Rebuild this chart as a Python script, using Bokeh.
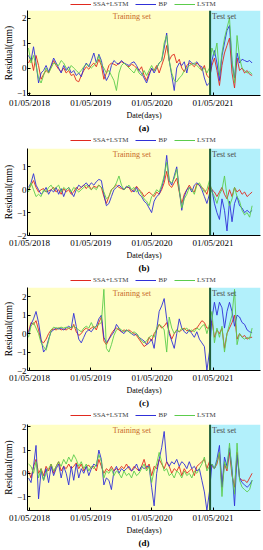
import pandas as pd
from bokeh.plotting import figure
from bokeh.models import (BoxAnnotation, Span, Label, Legend, LegendItem, FixedTicker,
                          Range1d, LinearAxis)
from bokeh.layouts import column
from bokeh.embed import file_html
from bokeh.resources import INLINE

# ---------------- data ----------------
dates = pd.date_range("2018-04-25", periods=90, freq="15D")
tick_dates = ["2018-05-01", "2019-05-01", "2020-05-01", "2021-05-01"]
tick_labels = ["01/05/2018", "01/05/2019", "01/05/2020", "01/05/2021"]
x_start_date = "2018-04-19"
x_end_date = "2022-02-08"
split_date = "2021-04-13"
series_names = ["SSA+LSTM", "BP", "LSTM"]
panel_captions = ["(a)", "(b)", "(c)", "(d)"]

a_ssa = [0.2, 0.4, -0.1, 0.5, 0.1, -0.45, -0.25, -0.1, -0.2, 0.05,
         0.3, 0.1, -0.05, -0.15, 0.0, -0.2, -0.1, -0.3, -0.25, -0.5,
         -0.55, -0.3, -0.1, 0.05, -0.05, 0.1, 0.2, 0.05, 0.35, 0.1,
         -0.45, -0.2, 0.1, 0.2, 0.15, 0.1, 0.2, 0.25, 0.2, 0.1,
         0.05, 0.15, 0.1, 0.0, -0.1, 0.05, -0.3, -0.5, -0.2, -0.05,
         -0.1, 0.1, -0.2, 0.1, 0.4, 0.9, 0.3, 0.5, 0.55, 0.2,
         0.35, 0.0, -0.15, 0.1, 0.2, 0.15, 0.05, 0.2, 0.1, -0.1,
         0.1, -0.3,
         -0.4, 0.1, 0.4, -0.1, -0.7, 0.1, 0.6, 0.9, 1.2, -0.2, -0.8, 0.4, -0.1, 0.0, -0.2, -0.1, -0.25, -0.3]
a_bp = [0.5, 0.3, 0.85, 0.2, -0.6, -0.2, -0.1, 0.1, -0.15, 0.1,
        0.4, 0.2, 0.0, -0.2, 0.1, -0.1, 0.05, -0.2, -0.1, -0.3,
        -0.2, -0.35, 0.0, 0.2, 0.05, 0.3, 0.6, 0.2, 0.55, 0.3,
        -0.2, -0.5, -0.3, 0.1, 0.3, 0.2, 0.15, 0.3, 0.2, 0.15,
        0.1, 0.2, 0.25, 0.1, -0.1, -0.2, -0.4, -0.6, -0.3, 0.0,
        -0.2, 0.0, 0.2, 0.3, 0.8, 1.4, 0.3, -0.3, -0.9, 0.0,
        0.2, 0.1, 0.25, -0.2, 0.3, 0.2, 0.15, 0.25, 0.1, 0.05,
        -0.4, -0.7,
        -0.6, 0.3, 0.7, 0.2, -0.5, 0.5, 1.0, 1.5, 1.7, 0.2, -0.4, 0.6, 0.2, 0.35, 0.3, 0.25, 0.3, 0.2]
a_lstm = [0.8, 0.2, 0.5, 0.1, -0.4, -0.6, -0.3, 0.0, -0.2, 0.0,
          0.2, 0.15, 0.1, 0.3, 0.2, 0.0, -0.1, 0.1, 0.0, -0.1,
          -0.2, -0.1, 0.05, 0.15, 0.1, 0.0, 0.1, 0.2, 0.5, 0.15,
          0.0, -0.2, -0.1, -0.3, -0.5, -0.9, -0.2, 0.1, 0.2, 0.1,
          0.0, -0.1, -0.2, 0.0, -0.2, -0.3, -0.1, -0.3, -0.1, 0.1,
          -0.1, 0.0, 0.2, 0.3, 1.0, 1.3, 0.3, -0.2, -0.5, -0.55,
          -0.4, -0.3, -0.1, 0.0, 0.1, 0.15, 0.2, 0.1, 0.0, -0.1,
          0.0, -0.2,
          0.0, 0.8, 0.5, 1.0, -0.3, 0.6, 1.2, 1.6, 2.0, 0.3, -0.6, 1.3, 0.4, 0.0, -0.1, -0.2, -0.15, -0.25]

b_ssa = [0.0, 0.2, 0.4, 0.1, -0.1, 0.0, 0.05, -0.1, -0.05, 0.0,
         0.1, -0.1, 0.0, -0.2, 0.05, -0.1, 0.0, -0.2, -0.1, 0.1,
         0.0, 0.1, 0.2, 0.05, 0.2, 0.0, 0.15, 0.1, 0.2, 0.1,
         -0.3, -0.6, -0.3, 0.0, 0.1, 0.2, 0.1, 0.05, 0.0, 0.1,
         0.1, -0.1, 0.0, 0.15, 0.0, -0.1, -0.3, -0.2, -0.1, -0.2,
         -0.3, -0.1, -0.2, 0.0, 0.3, 0.8, 0.2, 0.1, 0.3, 0.5,
         -0.1, -0.6, -0.2, 0.0, 0.2, 0.0, -0.1, 0.25, 0.2, 0.1,
         0.0, -0.2,
         0.2, 0.0, -0.1, -0.3, -0.1, 0.1, -0.2, -0.4, 0.0, -0.3, 0.1, -0.1, 0.0, -0.2, -0.1, -0.3, -0.2, -0.1]
b_bp = [0.1, 0.3, 0.7, 0.2, 0.0, -0.2, -0.1, 0.1, -0.2, 0.0,
        -0.1, 0.1, -0.2, 0.05, -0.3, 0.0, 0.1, -0.1, -0.3, 0.0,
        0.2, 0.1, 0.2, 0.3, 0.15, 0.3, 0.2, 0.35, 0.45, 0.4,
        -0.2, -0.7, -0.6, -0.3, 0.0, 0.1, 0.2, 0.1, 0.0, 0.15,
        0.1, 0.0, -0.1, 0.1, -0.2, -0.3, -0.5, -0.6, -0.8, -1.0,
        -0.5, -0.3, -0.2, 0.1, 0.5, 1.5, 0.4, 0.2, 0.6, 1.0,
        0.0, -0.9, -0.3, 0.0, 0.1, -0.1, 0.2, 0.3, 0.2, 0.0,
        -0.3, -0.6,
        -0.2, 0.0, -0.6, -1.0, -1.3, -0.4, -0.9, -1.8, -0.5, -1.4, -0.6, -0.3, -0.7, -0.8, -1.0, -0.9, -1.0, -0.9]
b_lstm = [-0.1, 0.3, 0.0, -0.3, -0.2, -0.3, 0.0, -0.1, 0.1, 0.2,
          0.0, 0.1, 0.2, -0.1, 0.1, 0.0, 0.1, -0.1, 0.1, 0.0,
          -0.1, 0.0, 0.1, 0.2, 0.1, 0.0, 0.1, 0.0, 0.2, 0.1,
          -0.1, -0.4, -0.3, 0.0, 0.1, 0.3, 0.6, 0.2, 0.0, 0.1,
          0.2, 0.0, 0.1, -0.1, 0.0, -0.2, -0.4, -0.5, -0.7, -0.3,
          -0.2, 0.0, -0.1, 0.2, 0.6, 1.2, 0.4, 0.3, 0.5, 0.9,
          0.0, -0.8, -0.4, -0.2, 0.1, 0.0, -0.2, 0.2, 0.3, 0.1,
          -0.1, 0.0,
          0.4, -0.1, -0.3, -0.6, -0.2, 0.0, 0.6, -0.3, -0.7, -0.4, 0.1, -0.3, -0.5, -0.9, -1.1, -1.0, -1.2, -0.7]

c_ssa = [0.1, 0.6, 0.5, 0.7, 0.2, -0.4, -0.5, -0.3, 0.0, 0.2,
         0.25, 0.2, 0.3, 0.2, 0.25, 0.2, 0.3, 0.2, 0.5, 0.1,
         -0.1, 0.0, 0.2, 0.3, 0.2, 0.3, 0.4, 0.2, 0.6, 0.9,
         -0.4, -0.6, -0.3, 0.0, 0.2, 0.3, 0.2, 0.1, 0.2, 0.15,
         0.2, 0.1, 0.0, -0.1, -0.3, -0.5, -0.7, -0.6, -0.2, -0.4,
         0.0, 0.2, 0.5, 0.3, 0.4, 0.6, 0.1, -0.3, 0.0, 0.2,
         0.1, 0.2, 0.3, 0.15, 0.2, 0.1, 0.25, 0.3, 0.5, 0.7,
         0.6, 0.3,
         0.3, 0.7, -0.2, 0.2, 0.0, 0.3, -0.8, 0.0, 0.3, 0.6, 1.0, -0.3, 0.0, -0.2, -0.1, -0.3, -0.2, -0.2]
c_bp = [0.0, 0.5, 0.8, 1.2, 0.6, -0.3, -1.0, -0.8, -0.3, 0.1,
        0.2, 0.3, 0.25, 0.3, 0.2, 0.3, 0.4, 0.3, 1.1, 0.4,
        -0.3, -0.5, -0.2, 0.1, 0.2, 0.1, 0.3, 0.4, 0.8, 1.0,
        -0.2, -0.5, -0.3, -0.1, 0.1, 0.5, 0.3, 0.1, 0.0, 0.2,
        0.1, 0.0, -0.1, 0.0, -0.2, -0.3, -0.4, -0.6, -0.5, -0.3,
        -0.8, 0.2, 1.2, 1.5, 1.9, 0.8, 0.0, -0.4, -0.8, 0.0,
        0.8, 0.3, 0.1, 0.0, 0.2, 0.0, -0.2, 0.1, -0.3, -0.5,
        -0.7, -2.0,
        -1.0, 0.8, 1.7, 1.0, 1.7, 1.4, 0.3, 1.2, 1.7, 1.2, 0.4, 1.0, 0.9, 0.6, 0.5, 0.2, 0.1, 0.05]
c_lstm = [-0.2, 0.4, 0.6, 0.3, 0.0, -0.5, -0.7, -0.9, -0.4, 0.2,
          0.35, 0.3, 0.3, 0.35, 0.3, 0.35, 0.3, 0.35, 0.4, 0.3,
          0.2, 0.1, 0.3, 0.4, 0.3, 0.6, 0.3, 0.4, 0.5, 0.6,
          2.4, -0.8, -1.0, -0.6, -0.1, 0.2, 0.3, 0.2, 0.1, 0.2,
          0.1, 0.0, 0.1, 0.0, -0.2, -0.4, -0.5, -0.4, -0.2, -0.1,
          -0.2, 0.3, 0.5, 0.4, 0.2, -1.0, 0.9, 0.3, 0.0, 0.2,
          0.1, 0.3, 0.2, 0.3, 0.1, 0.2, 0.1, 0.3, 0.2, 0.4,
          0.5, 0.0,
          0.5, 1.2, -0.5, 0.3, -0.2, 0.4, -1.0, 0.0, 0.5, 1.0, 2.4, -0.6, 0.0, -0.2, -0.3, -0.2, -0.3, 0.3]

d_ssa = [0.1, -0.2, 0.3, 0.6, 0.0, 0.2, -0.1, 0.3, 0.1, 0.4,
         0.0, 0.3, 0.5, 0.1, 0.3, 0.2, 0.4, 0.2, 0.3, 0.45,
         0.2, 0.4, 0.1, 0.3, 0.35, 0.2, 0.3, 0.1, 0.6, 0.3,
         0.0, 0.2, 0.1, 0.3, 0.1, 0.2, 0.15, 0.3, 0.2, 0.4,
         0.2, 0.1, 0.3, 0.2, 0.1, 0.3, 0.6, 0.2, 0.4, -0.1,
         0.3, 0.2, 0.6, 0.4, 0.2, 0.5, 0.3, 0.0, 0.2, 0.1,
         0.3, -0.1, 0.2, 0.0, 0.1, 0.2, -0.1, 0.3, 0.4, 0.5,
         0.6, 0.2,
         0.5, 0.3, 0.2, 0.4, 0.9, -0.6, 0.4, 0.1, 0.9, -0.1, -0.6, 0.9, -0.2, -0.3, -0.3, -0.4, -0.2, 0.0]
d_bp = [-0.2, -0.4, 0.3, 1.2, -1.1, 0.1, -0.3, 0.2, -0.4, 0.3,
        -0.1, 0.2, 0.4, -0.2, 0.3, 0.0, -0.5, 0.3, -0.3, 0.4,
        -0.2, 0.2, 0.0, 0.3, -0.1, 0.2, 0.4, 0.3, 1.0, 0.6,
        -0.5, -0.2, -0.3, -0.7, 0.1, 0.3, 0.0, 0.2, 0.1, 0.2,
        0.3, 0.1, 0.2, 0.4, 0.1, 0.3, 0.2, 0.3, 0.3, -0.6,
        -1.4, 0.0, 0.6, 1.1, 1.8, 0.5, 0.3, 0.5, 0.4, 0.6,
        0.3, 0.5, 0.4, 0.2, 0.5, 0.2, 0.3, 0.1, 0.2, -0.3,
        -0.8, -1.6,
        -0.8, 0.4, 0.2, 0.6, 1.2, -0.6, 0.7, 0.3, 1.1, 0.2, -1.4, 0.8, -0.2, -0.4, -0.5, -0.6, -0.5, -0.3]
d_lstm = [0.4, 0.3, 0.0, 0.5, -0.2, 0.2, -0.3, 0.0, 0.2, 0.4,
          0.1, 0.3, 0.5, 0.3, 0.6, 0.4, 0.7, 0.5, 0.8, 0.6,
          0.3, 0.5, 0.2, 0.4, 0.1, 0.3, 0.2, 0.4, 0.8, 0.5,
          -0.2, 0.1, 0.0, 0.2, -0.1, 0.1, 0.0, -0.2, 0.1, -0.1,
          0.0, -0.2, 0.1, -0.1, 0.0, 0.2, 0.4, 0.1, 0.3, -0.4,
          0.1, 0.4, 0.9, 0.5, 0.1, 0.2, -0.1, 0.0, -0.2, 0.1,
          0.0, -0.2, 0.1, -0.1, 0.0, -0.2, 0.1, 0.0, 0.2, 0.4,
          0.7, 0.1,
          0.3, 0.4, 0.2, 0.5, 0.9, -1.0, 0.5, 0.2, 1.3, 0.0, -0.9, 1.3, -0.3, -0.6, -0.7, -0.8, -0.7, -0.3]

panel_series = [(a_ssa, a_bp, a_lstm), (b_ssa, b_bp, b_lstm),
                (c_ssa, c_bp, c_lstm), (d_ssa, d_bp, d_lstm)]
y_ranges = [(-1.1, 2.3), (-2.0, 1.8), (-2.0, 2.5), (-1.6, 2.1)]
y_ticks = [[-1, 0, 1, 2], [-2, -1, 0, 1], [-2, -1, 0, 1, 2], [-1, 0, 1, 2]]

# ---------------- style / layout ----------------
SERIF = "Liberation Serif"
FIG_W = 263
line_colors = ["#e0291f", "#3030d8", "#5ccc4c"]
train_fill = "#fffec4"
test_fill = "#b2f0fb"
split_color = "#1f5e3a"
legend_heights = [8, 9, 9, 9]
main_heights = [127, 131, 126, 131]
main_top = [2, 4, 3, 5]
legend_left = 43

origin = pd.Timestamp(x_start_date)
def day(d):
    return (pd.Timestamp(d) - origin).days

xs = [day(d) for d in dates]
x_ticks = [day(d) for d in tick_dates]
x_end = day(x_end_date)
split_x = day(split_date)
train_label_x = day("2020-01-02")


rows = []
for k in range(4):
    # legend strip: the series are drawn out of view, only the legend shows
    lh = legend_heights[k]
    lf = figure(width=FIG_W, height=lh, output_backend="svg", toolbar_location=None,
                x_range=Range1d(0, x_end), y_range=Range1d(100, 101),
                x_axis_location=None, y_axis_location=None,
                min_border_left=0, min_border_right=0,
                min_border_top=0, min_border_bottom=0)
    lf.outline_line_color = None
    lf.xgrid.visible = False
    lf.ygrid.visible = False
    lrs = [lf.line(xs, vals, line_color=line_colors[s], line_width=1)
           for s, vals in enumerate(panel_series[k])]
    leg = Legend(items=[LegendItem(label=series_names[s], renderers=[lrs[s]]) for s in range(3)],
                 orientation="horizontal", location=(legend_left, 0),
                 label_text_font=SERIF, label_text_font_size="7px",
                 glyph_width=21, glyph_height=6, label_height=7, label_width=0,
                 label_standoff=2, spacing=7, padding=0, margin=0,
                 border_line_alpha=0, background_fill_alpha=0)
    lf.add_layout(leg, "center")
    rows.append(lf)

    # main plot
    y0, y1 = y_ranges[k]
    p = figure(width=FIG_W, height=main_heights[k], output_backend="svg",
               toolbar_location=None, x_range=Range1d(0, x_end),
               y_range=Range1d(y0, y1),
               min_border_left=24, min_border_right=3,
               min_border_top=main_top[k], min_border_bottom=0)
    p.outline_line_color = None
    p.xgrid.visible = False
    p.ygrid.visible = False

    p.add_layout(BoxAnnotation(left=0, right=split_x, fill_color=train_fill,
                               fill_alpha=1, line_alpha=0, level="underlay"))
    p.add_layout(BoxAnnotation(left=split_x, right=x_end, fill_color=test_fill,
                               fill_alpha=1, line_alpha=0, level="underlay"))

    for s, vals in enumerate(panel_series[k]):
        p.line(xs, vals, line_color=line_colors[s], line_width=1, line_alpha=0.9)

    p.add_layout(Span(location=split_x, dimension="height",
                      line_color=split_color, line_width=2))

    p.add_layout(Label(x=train_label_x, y=y1, text="Training set",
                       text_font=SERIF, text_font_size="8px",
                       text_color="#c8692a", text_align="center",
                       text_baseline="top", y_offset=-1))
    p.add_layout(Label(x=split_x, y=y1, text="Test set",
                       text_font=SERIF, text_font_size="8px",
                       text_color="#4a4a4a", text_align="left",
                       text_baseline="top", x_offset=2, y_offset=-1))

    p.xaxis.ticker = FixedTicker(ticks=x_ticks)
    p.xaxis.major_label_overrides = {t: lab for t, lab in zip(x_ticks, tick_labels)}
    p.yaxis.ticker = FixedTicker(ticks=y_ticks[k])
    for ax in (p.xaxis[0], p.yaxis[0]):
        ax.major_tick_in = 3
        ax.major_tick_out = 0
        ax.minor_tick_line_color = None
        ax.axis_line_color = "black"
        ax.major_tick_line_color = "black"
        ax.major_label_text_font = SERIF
        ax.major_label_text_font_size = "9px"
        ax.major_label_text_color = "black"
        ax.major_label_standoff = 1
        ax.axis_label_text_font = SERIF
        ax.axis_label_text_font_style = "normal"
        ax.axis_label_text_color = "black"
        ax.axis_label_standoff = 0
    p.xaxis.major_label_standoff = 2
    p.xaxis.axis_label = "Date(days)"
    p.xaxis.axis_label_text_font_size = "8px"
    p.yaxis.axis_label = "Residual(mm)"
    p.yaxis.axis_label_text_font_size = "9.5px"

    # panel caption as a tick-less second bottom axis
    cap = LinearAxis(ticker=FixedTicker(ticks=[]), axis_label=panel_captions[k],
                     axis_line_color=None, major_tick_line_color=None,
                     minor_tick_line_color=None, major_label_standoff=0,
                     axis_label_standoff=0, axis_label_text_font=SERIF,
                     axis_label_text_font_size="9px",
                     axis_label_text_font_style="bold",
                     axis_label_text_color="black")
    p.add_layout(cap, "below")
    rows.append(p)

layout = column(*rows, spacing=0)
open("out.html", "w").write(file_html(layout, INLINE))
